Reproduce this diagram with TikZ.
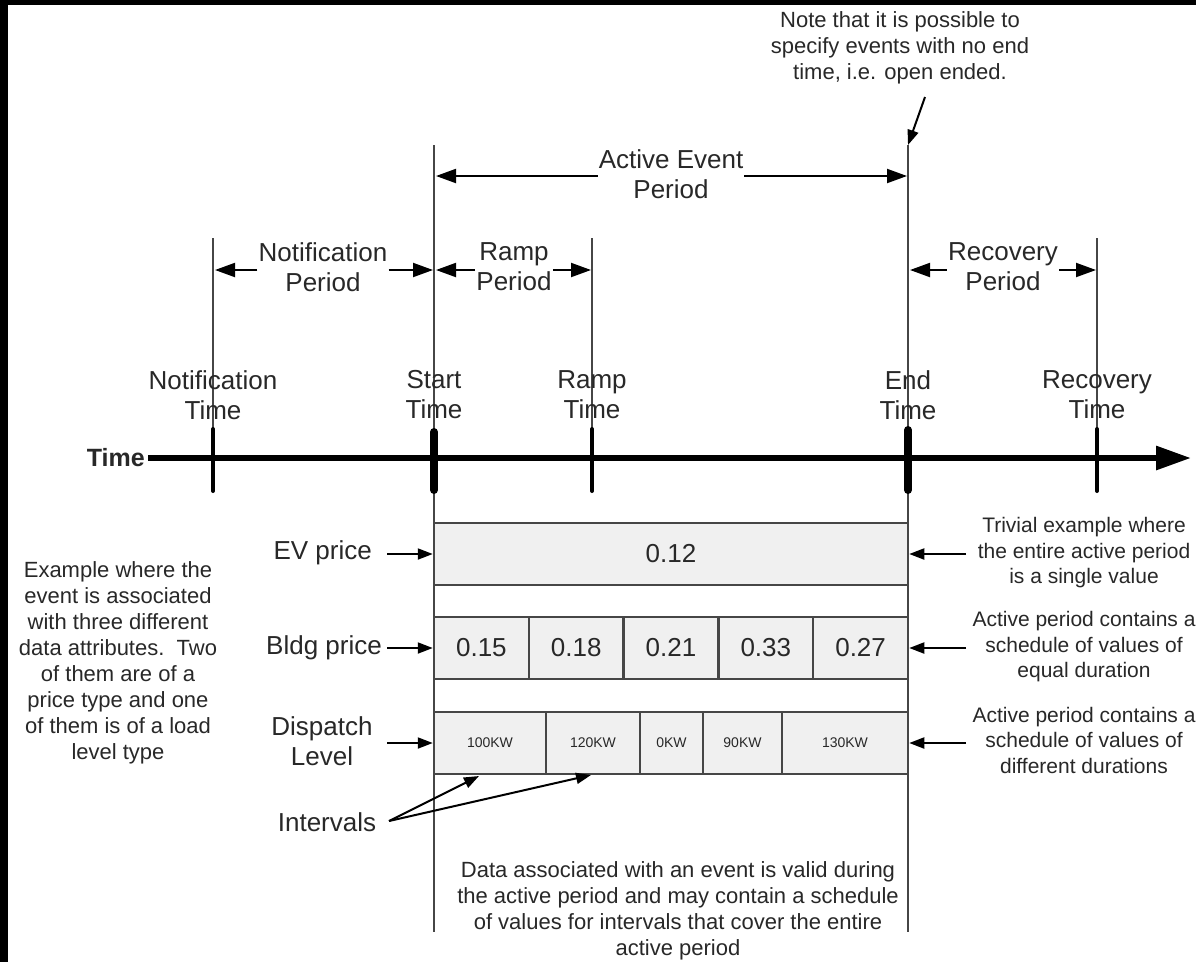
\documentclass[tikz,border=0pt]{standalone}
\usepackage{fontspec}
\setmainfont{Liberation Sans}
\usetikzlibrary{arrows.meta}
\definecolor{txt}{RGB}{40,40,40}
\definecolor{ln}{RGB}{70,70,70}
\definecolor{cellfill}{RGB}{240,240,240}
\newcommand\mybig{\fontsize{26}{30}\selectfont}
\newcommand\mymid{\fontsize{22}{26}\selectfont}
\newcommand\mytiny{\fontsize{14}{17}\selectfont}
\begin{document}
\begin{tikzpicture}[x=1pt,y=-1pt,
  lbl/.style={text=txt,font=\mybig,align=center,inner sep=1pt},
  note/.style={text=txt,font=\mymid,align=center,inner sep=1pt},
  rnote/.style={text=txt,font=\fontsize{21}{25.5}\selectfont,align=center,inner sep=1pt},
  cell/.style={draw=ln,line width=2.5pt,fill=cellfill,text=txt,minimum height=62pt,inner sep=0pt},
  vline/.style={draw=ln,line width=2.5pt},
  tick/.style={draw=black,line width=4pt,line cap=round},
  bigtick/.style={draw=black,line width=8pt,line cap=round},
  parr/.style={draw=black,line width=2pt,-{Triangle[length=20pt,width=14pt]}},
  sarr/.style={draw=black,line width=2pt,-{Triangle[length=15pt,width=11pt]}},
]
\clip (0,0) rectangle (1196,962);
\fill[white] (0,0) rectangle (1196,962);
\fill[black] (0,0) rectangle (1196,5);
\fill[black] (0,0) rectangle (8,962);

% coordinates of the time marks
\coordinate (nTop) at (213,238); \coordinate (nTk) at (213,429); \coordinate (nBot) at (213,491);
\coordinate (sTop) at (434,145); \coordinate (sTk) at (434,432); \coordinate (sTkB) at (434,490); \coordinate (sBot) at (434,932);
\coordinate (rTop) at (592,238); \coordinate (rTk) at (592,429); \coordinate (rBot) at (592,491);
\coordinate (eTop) at (908,145); \coordinate (eTk) at (908,430); \coordinate (eTkB) at (908,490); \coordinate (eBot) at (908,932);
\coordinate (vTop) at (1097,238); \coordinate (vTk) at (1097,429); \coordinate (vBot) at (1097,491);

% vertical lines
\draw[vline] (nTop) -- (nTk);
\draw[vline] (sTop) -- (sBot);
\draw[vline] (rTop) -- (rTk);
\draw[vline] (eTop) -- (eBot);
\draw[vline] (vTop) -- (vTk);

% time axis
\node[text=txt,font=\fontsize{25}{30}\selectfont\bfseries,anchor=east,inner sep=1pt] (tl) at (146,458) {Time};
\coordinate (axEnd) at (1191,458);
\draw[black,line width=6pt,-{Triangle[length=35pt,width=23pt]}] ([xshift=2pt]tl.east) -- (axEnd);

% ticks
\draw[tick] (nTk) -- (nBot);
\draw[bigtick] (sTk) -- (sTkB);
\draw[tick] (rTk) -- (rBot);
\draw[bigtick] (eTk) -- (eTkB);
\draw[tick] (vTk) -- (vBot);

% time labels
\node[lbl] (ntl) at (213,395) {Notification\\Time};
\node[lbl] (stl) at (434,395) {Start\\Time};
\node[lbl] (rtl) at (592,395) {Ramp\\Time};
\node[lbl] (etl) at (908,395) {End\\Time};
\node[lbl] (vtl) at (1097,395) {Recovery\\Time};

% period labels and arrows
\node[lbl] (npl) at (323,267) {Notification\\Period};
\coordinate (npL) at (215,270); \coordinate (npR) at (433,270);
\draw[parr] (npl.west |- npL) -- (npL);
\draw[parr] (npl.east |- npR) -- (npR);

\node[lbl] (rpl) at (514,267) {Ramp\\Period};
\coordinate (rpL) at (436,270); \coordinate (rpR) at (591,270);
\draw[parr] (rpl.west |- rpL) -- (rpL);
\draw[parr] (rpl.east |- rpR) -- (rpR);

\node[lbl] (apl) at (671,174) {Active Event\\Period};
\coordinate (apL) at (436,176); \coordinate (apR) at (907,176);
\draw[parr] (apl.west |- apL) -- (apL);
\draw[parr] (apl.east |- apR) -- (apR);

\node[lbl] (vpl) at (1003,267) {Recovery\\Period};
\coordinate (vpL) at (910,270); \coordinate (vpR) at (1096,270);
\draw[parr] (vpl.west |- vpL) -- (vpL);
\draw[parr] (vpl.east |- vpR) -- (vpR);

% note at the top
\node[note] (nt) at (900,48) {Note that it is possible to\\specify events with no end\\time, i.e. open ended.};
\coordinate (ntA) at (925,97);
\draw[sarr] (ntA) -- (eTop);

% data rows
\node[cell,minimum width=474pt,font=\mybig] (ev) at (671,554) {0.12};

\node[cell,minimum width=94.8pt,font=\mybig] (b1) at (481.4,648) {0.15};
\node[cell,minimum width=94.8pt,font=\mybig] (b2) at (576.2,648) {0.18};
\node[cell,minimum width=94.8pt,font=\mybig] (b3) at (671,648) {0.21};
\node[cell,minimum width=94.8pt,font=\mybig] (b4) at (765.8,648) {0.33};
\node[cell,minimum width=94.8pt,font=\mybig] (b5) at (860.6,648) {0.27};

\node[cell,minimum width=112pt,font=\mytiny] (d1) at (490,743) {100KW};
\node[cell,minimum width=94pt,font=\mytiny] (d2) at (593,743) {120KW};
\node[cell,minimum width=63pt,font=\mytiny] (d3) at (671.5,743) {0KW};
\node[cell,minimum width=79pt,font=\mytiny] (d4) at (742.5,743) {90KW};
\node[cell,minimum width=126pt,font=\mytiny] (d5) at (845,743) {130KW};

% left labels
\node[lbl,anchor=east] (evl) at (373,553) {EV price};
\coordinate (evA) at (387,554);
\draw[sarr] (evA) -- (evA -| ev.west);
\node[lbl,anchor=east] (bpl) at (383,648) {Bldg price};
\coordinate (bpA) at (387,648);
\draw[sarr] (bpA) -- (bpA -| b1.west);
\node[lbl] (dpl) at (322,741) {Dispatch\\Level};
\coordinate (dpA) at (387,743);
\draw[sarr] (dpA) -- (dpA -| d1.west);

% right notes
\node[rnote] (rt1) at (1084,553) {Trivial example where\\the entire active period\\is a single value};
\coordinate (rA1) at (966,554);
\draw[sarr] (rA1) -- (rA1 -| ev.east);
\node[rnote] (rt2) at (1084,647) {Active period contains a\\schedule of values of\\equal duration};
\coordinate (rA2) at (966,648);
\draw[sarr] (rA2) -- (rA2 -| b5.east);
\node[rnote] (rt3) at (1084,740) {Active period contains a\\schedule of values of\\different durations};
\coordinate (rA3) at (966,743);
\draw[sarr] (rA3) -- (rA3 -| d5.east);

% left note
\node[note] (lt) at (118,663) {Example where the\\event is associated\\with three different\\data attributes.\ \ Two\\of them are of a\\price type and one\\of them is of a load\\level type};

% intervals
\node[lbl] (ivl) at (327,822) {Intervals};
\coordinate (ivA) at (389,821);
\coordinate (ivT1) at (479,776);
\coordinate (ivT2) at (591,775);
\draw[sarr] (ivA) -- (ivT1);
\draw[sarr] (ivA) -- (ivT2);

% bottom note
\node[note] (bt) at (678,911) {Data associated with an event is valid during\\the active period and may contain a schedule\\of values for intervals that cover the entire\\active period};
\end{tikzpicture}
\end{document}
